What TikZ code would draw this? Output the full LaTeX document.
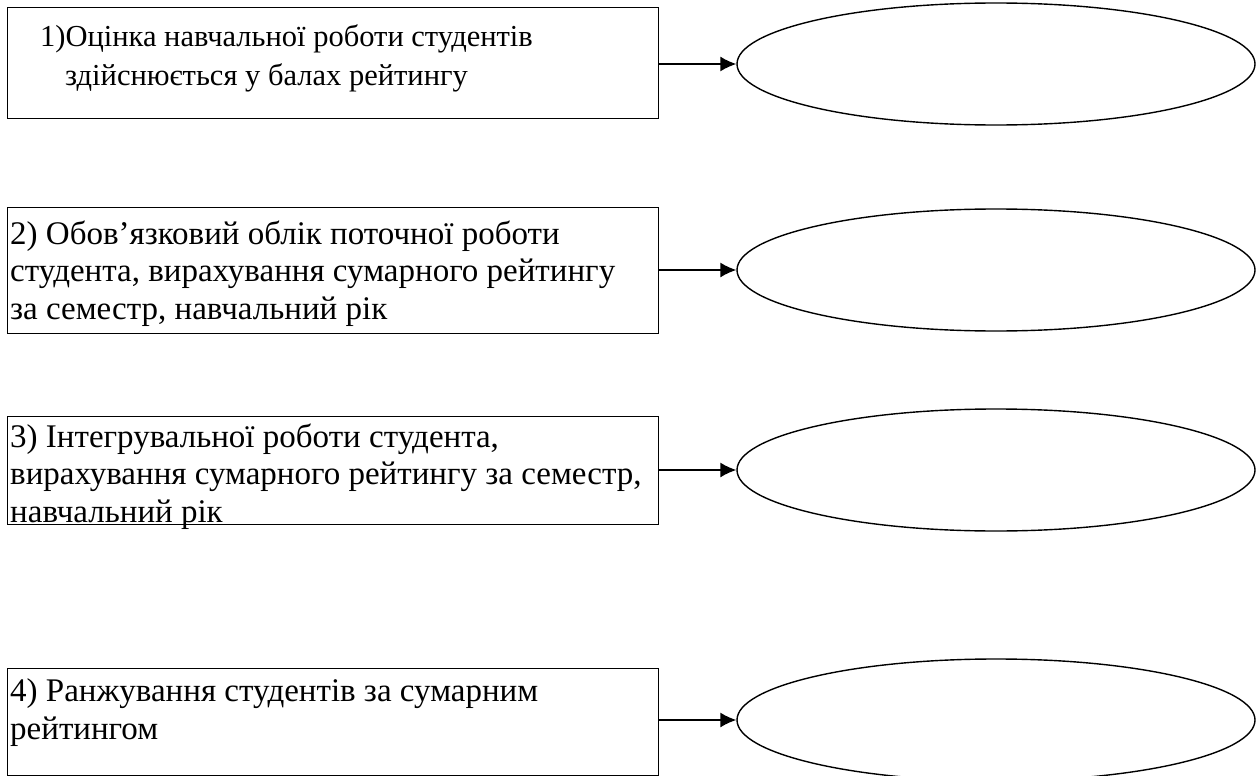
\documentclass[tikz,border=0pt]{standalone}
\usepackage{fontspec}
\setmainfont{Liberation Serif}
\usetikzlibrary{arrows.meta,shapes.geometric}

\begin{document}
\begin{tikzpicture}[x=1pt, y=-1pt,
	box/.style={draw, line width=1.4pt, anchor=north west, minimum width=651pt, inner sep=0pt},
	oval/.style={draw, ellipse, line width=1.4pt, minimum width=518pt, minimum height=122pt, inner sep=0pt},
	txt/.style={anchor=base west, align=left, inner sep=0pt, font=\fontsize{33}{37.5}\selectfont},
	arr/.style={line width=1.4pt, -{Latex[length=16pt,width=15pt]}}]
	%%%%% START %%%%%
	
	\useasboundingbox (0, 0) rectangle (1259, 776);
	
	\node[box, minimum height=111pt] (b1) at (7, 7) {};
	\node[box, minimum height=126pt] (b2) at (7, 207) {};
	\node[box, minimum height=108pt] (b3) at (7, 416) {};
	\node[box, minimum height=107pt] (b4) at (7, 668) {};
	
	% anchor is the baseline of the last line
	\node[txt, font=\fontsize{30.5}{39}\selectfont] (t1) at (40, 85) {1)Оцінка навчальної роботи студентів\\\hspace*{25pt}здійснюється у балах рейтингу};
	\node[txt] (t2) at (10, 319) {2) Обов’язковий облік поточної роботи\\студента, вирахування сумарного рейтингу\\за семестр, навчальний рік};
	\node[txt] (t3) at (10, 522) {3) Інтегрувальної роботи студента,\\вирахування сумарного рейтингу за семестр,\\навчальний рік};
	\node[txt] (t4) at (10, 739) {4) Ранжування студентів за сумарним\\рейтингом};
	
	\node[oval] (e1) at (996, 64) {};
	\node[oval] (e2) at (996, 270) {};
	\node[oval] (e3) at (996, 470) {};
	\node[oval] (e4) at (996, 720) {};
	
	\draw[arr] (b1.east |- e1.west) -- (e1.west);
	\draw[arr] (b2.east |- e2.west) -- (e2.west);
	\draw[arr] (b3.east |- e3.west) -- (e3.west);
	\draw[arr] (b4.east |- e4.west) -- (e4.west);
	
	%%%%% END %%%%%
\end{tikzpicture}
\end{document}
